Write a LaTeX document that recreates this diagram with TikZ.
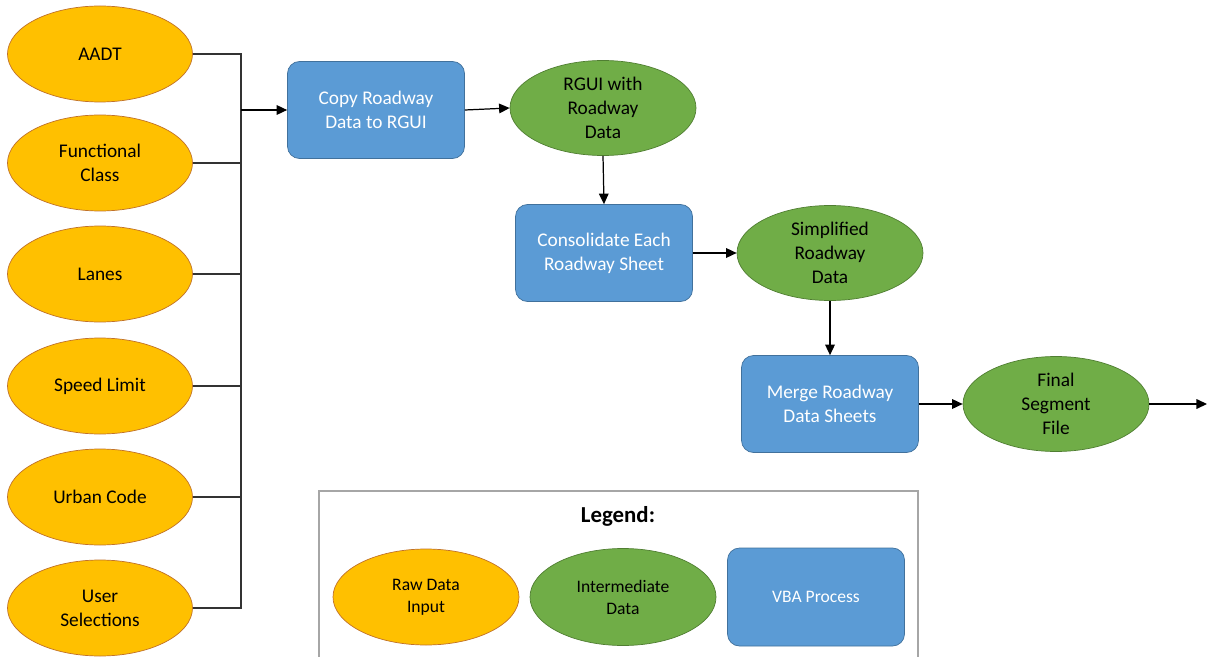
\documentclass[tikz,border=0pt]{standalone}
\usepackage{fontspec}
\setmainfont{Carlito}
\usetikzlibrary{arrows.meta, shapes.geometric}

\definecolor{rawfill}{HTML}{FFC000}
\definecolor{rawline}{HTML}{C0712A}
\definecolor{interfill}{HTML}{70AD47}
\definecolor{interline}{HTML}{507E32}
\definecolor{vbafill}{HTML}{5B9BD5}
\definecolor{vbaline}{HTML}{41719C}

\begin{document}
\begin{tikzpicture}[
    rawdata/.style={ellipse, draw=rawline, fill=rawfill, minimum width=3.7cm, minimum height=1.92cm,
        inner sep=0pt, align=center, font=\fontsize{11}{13.7}\selectfont},
    interdata/.style={ellipse, draw=interline, fill=interfill, minimum width=3.72cm, minimum height=1.9cm,
        inner sep=0pt, align=center, font=\fontsize{11}{13.7}\selectfont},
    vbaproc/.style={rectangle, rounded corners=0.24cm, draw=vbaline, fill=vbafill, text=white,
        minimum width=3.54cm, minimum height=1.94cm, align=center, font=\fontsize{11}{13.7}\selectfont},
    arr/.style={-{Triangle[length=6pt,width=5.5pt]}, line width=0.7pt},
    feed/.style={line width=0.7pt, draw=black!80}
]
    \useasboundingbox (0,0) rectangle (24.14,-13.14);

    % Raw data inputs
    \node[rawdata] (aadt)  at (2.0,-1.08)  {AADT};
    \node[rawdata] (func)  at (2.0,-3.26)  {Functional\\Class};
    \node[rawdata] (lanes) at (2.0,-5.48)  {Lanes};
    \node[rawdata] (speed) at (2.0,-7.72)  {Speed Limit};
    \node[rawdata] (urban) at (2.0,-9.94)  {Urban Code};
    \node[rawdata] (user)  at (2.0,-12.16) {User\\Selections};

    % Process chain
    \node[vbaproc]   (copy)   at (7.52,-2.2)   {Copy Roadway\\Data to RGUI};
    \node[interdata] (rgui)   at (12.06,-2.16) {RGUI with\\Roadway\\Data};
    \node[vbaproc]   (consol) at (12.08,-5.06) {Consolidate Each\\Roadway Sheet};
    \node[interdata] (simp)   at (16.6,-5.06)  {Simplified\\Roadway\\Data};
    \node[vbaproc]   (merge)  at (16.6,-8.08)  {Merge Roadway\\Data Sheets};
    \node[interdata] (final)  at (21.12,-8.08) {Final\\Segment\\File};

    % Inputs joined onto the bus
    \coordinate (join) at (4.82,-2.2);
    \coordinate (out) at (24.14,-8.08);
    \foreach \n in {aadt,func,lanes,speed,urban,user}
        \draw[feed] (\n.east) -| (join);

    % Arrows
    \draw[arr] (join) -- (copy.west);
    \draw[arr] (copy.east) -- (rgui.west);
    \draw[arr] (rgui.south) -- (consol.north);
    \draw[arr] (consol.east) -- (simp.west);
    \draw[arr] (simp.south) -- (merge.north);
    \draw[arr] (merge.east) -- (final.west);
    \draw[arr] (final.east) -- (out);

    % Legend
    \draw[draw=black!35, line width=0.7pt] (6.38,-9.82) rectangle (18.36,-13.3);
    \node[font=\fontsize{13}{16}\selectfont\bfseries] (legtitle) at (12.36,-10.32) {Legend:};
    \node[rawdata, minimum width=3.72cm, font=\fontsize{10}{12.5}\selectfont] (legraw) at (8.52,-11.94) {Raw Data\\Input};
    \node[interdata, minimum height=1.94cm, font=\fontsize{10}{12.5}\selectfont] (leginter) at (12.46,-11.94) {Intermediate\\Data};
    \node[vbaproc, minimum height=1.96cm, font=\fontsize{10}{12.5}\selectfont] (legvba) at (16.32,-11.94) {VBA Process};
\end{tikzpicture}
\end{document}
